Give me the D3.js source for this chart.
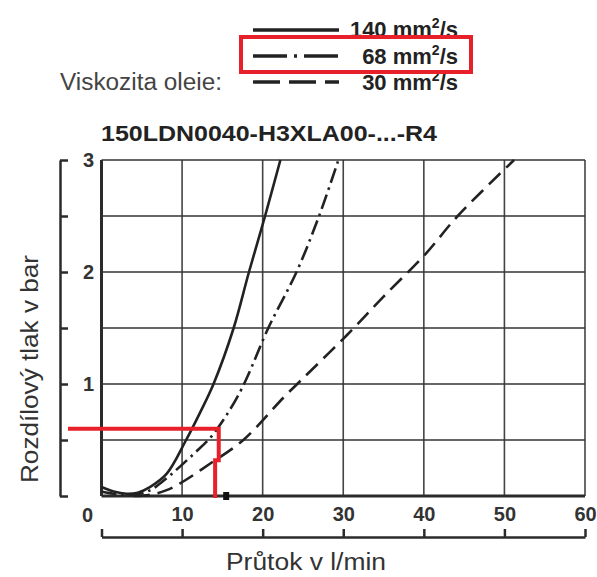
<!DOCTYPE html>
<html>
<head>
<meta charset="utf-8">
<script src="https://cdn.jsdelivr.net/npm/d3@7"></script>
<style>
  body { margin: 0; background: #fff; }
  svg { display: block; font-family: "Liberation Sans", Arial, sans-serif; }
</style>
</head>
<body>
<svg width="597" height="577"></svg>
<script>
// curve values (flow l/min, pressure bar)
var flow140 = [0, 1.5, 3.1, 4.5, 6, 8.1, 10.5, 12.2, 13.9, 16.4, 18.3, 20.3, 22.2];
var dp140 = [0.08, 0.04, 0.02, 0.03, 0.08, 0.2, 0.5, 0.74, 1.0, 1.5, 2.0, 2.5, 3.0];
var flow68 = [0, 2, 4, 6, 8.1, 9.7, 11.5, 13.5, 15.5, 17.2, 18.2, 20.7, 24.2, 27, 29.4];
var dp68 = [0.04, 0.015, 0.01, 0.05, 0.16, 0.26, 0.38, 0.52, 0.72, 0.93, 1.08, 1.5, 2.0, 2.5, 3.0];
var flow30 = [4, 6, 8, 9.7, 13.5, 17.6, 22.6, 25, 30.5, 35, 40.2, 44.2, 51.2];
var dp30 = [0.0, 0.01, 0.05, 0.11, 0.29, 0.5, 0.88, 1.05, 1.44, 1.78, 2.16, 2.5, 3.0];

var xTicks = [10, 20, 30, 40, 50, 60];
var yTicks = [1, 2, 3];
var xGrid = [0, 10, 20, 30, 40, 50, 60];
var yGrid = [0, 0.5, 1, 1.5, 2, 2.5, 3];

var legendNames = ["140", "68", "30"];
var markFlow = 14.1, markDp = 0.6;

var svg = d3.select("svg");
var x = d3.scaleLinear().domain([0, 60]).range([101.5, 585]);
var y = d3.scaleLinear().domain([0, 3]).range([496, 160]);
var ink = "#2b2b2b";

// grid
svg.append("g").selectAll("line").data(xGrid).join("line")
  .attr("x1", d => x(d)).attr("x2", d => x(d))
  .attr("y1", y(3)).attr("y2", y(0))
  .attr("stroke", (d, i) => i == 0 ? ink : "#444")
  .attr("stroke-width", (d, i) => i == 0 ? 3 : 1.6);
svg.append("g").selectAll("line").data(yGrid).join("line")
  .attr("x1", x(0)).attr("x2", x(60))
  .attr("y1", d => y(d)).attr("y2", d => y(d))
  .attr("stroke", (d, i) => i == 0 ? ink : "#333")
  .attr("stroke-width", (d, i) => i == 0 ? 3 : 1.6);

// separate side and bottom scales
var leftAxis = svg.append("g").attr("transform", "translate(60,0)")
  .call(d3.axisRight(y).tickValues(yGrid).tickSize(8).tickSizeOuter(0).tickFormat(""));
leftAxis.selectAll("path, line").attr("stroke", ink).attr("stroke-width", 2.5);

var bottomAxis = svg.append("g").attr("transform", "translate(0,537)")
  .call(d3.axisTop(x).tickValues(xGrid).tickSize(8).tickSizeOuter(0).tickFormat(""));
bottomAxis.selectAll("path, line").attr("stroke", ink).attr("stroke-width", 2.5);

// tick labels
var xl = svg.append("g").attr("transform", "translate(0,496)")
  .call(d3.axisBottom(x).tickValues(xTicks).tickSize(0).tickPadding(11));
xl.select(".domain").remove();
var yl = svg.append("g").attr("transform", "translate(94,0)")
  .call(d3.axisLeft(y).tickValues(yTicks).tickSize(0).tickPadding(0).tickFormat(d3.format("d")));
yl.select(".domain").remove();
svg.selectAll(".tick text").attr("font-size", 20).attr("font-weight", "bold")
  .attr("fill", "#333").attr("font-family", "Liberation Sans, Arial, sans-serif");
svg.append("text").attr("x", x(0) - 14).attr("y", 522).attr("text-anchor", "middle")
  .attr("font-size", 20).attr("font-weight", "bold").attr("fill", "#333").text("0");

// titles
svg.append("text").attr("x", 101).attr("y", 141)
  .attr("font-size", 22).attr("font-weight", "bold").attr("fill", "#222")
  .attr("textLength", 336).attr("lengthAdjust", "spacingAndGlyphs")
  .text("150LDN0040-H3XLA00-...-R4");
svg.append("text").attr("x", 226).attr("y", 570)
  .attr("font-size", 23).attr("fill", "#333")
  .attr("textLength", 160).attr("lengthAdjust", "spacingAndGlyphs")
  .text("Průtok v l/min");
svg.append("text").attr("transform", "translate(38,483) rotate(-90)")
  .attr("font-size", 23).attr("fill", "#333")
  .attr("textLength", 228).attr("lengthAdjust", "spacingAndGlyphs")
  .text("Rozdílový tlak v bar");

// curves
var line = d3.line().x(d => x(d[0])).y(d => y(d[1])).curve(d3.curveCatmullRom.alpha(0.5));
var curves = [
  { pts: d3.zip(flow140, dp140), dash: null },
  { pts: d3.zip(flow68, dp68), dash: "15,5,2.5,5" },
  { pts: d3.zip(flow30, dp30), dash: "16,8" }
];
svg.append("g").selectAll("path").data(curves).join("path")
  .attr("d", d => line(d.pts))
  .attr("fill", "none").attr("stroke", "#222").attr("stroke-width", 2.6)
  .attr("stroke-dasharray", d => d.dash);

// legend
var legendDash = [null, "34,7,3,7", "27,9"];
var legendY = [30, 56, 82];
var legendBase = [37, 64, 90];
svg.append("g").selectAll("line").data(legendNames).join("line")
  .attr("x1", 253).attr("x2", 339)
  .attr("y1", (d, i) => legendY[i]).attr("y2", (d, i) => legendY[i])
  .attr("stroke", "#222").attr("stroke-width", 3.4)
  .attr("stroke-dasharray", (d, i) => legendDash[i]);
var lt = svg.append("g").selectAll("text").data(legendNames).join("text")
  .attr("x", 458).attr("y", (d, i) => legendBase[i])
  .attr("text-anchor", "end").attr("font-size", 22).attr("font-weight", "bold").attr("fill", "#222");
lt.append("tspan").text(d => d + " mm");
lt.append("tspan").attr("font-size", 14).attr("dy", -9).text("2");
lt.append("tspan").attr("dy", 9).text("/s");
svg.append("text").attr("x", 60).attr("y", 90)
  .attr("font-size", 23).attr("fill", "#444")
  .attr("textLength", 162).attr("lengthAdjust", "spacingAndGlyphs")
  .text("Viskozita oleie:");

// red highlight
svg.append("rect").attr("x", 241).attr("y", 37).attr("width", 230).attr("height", 35)
  .attr("fill", "none").attr("stroke", "#e8202a").attr("stroke-width", 4);
var red = d3.path();
red.moveTo(68, y(markDp));
red.lineTo(x(markFlow + 0.45), y(markDp));
red.lineTo(x(markFlow + 0.45), y(0.32));
red.lineTo(x(markFlow), y(0.32));
red.lineTo(x(markFlow), 498);
svg.append("path").attr("d", red.toString()).attr("fill", "none")
  .attr("stroke", "#e8202a").attr("stroke-width", 4);
svg.append("rect").attr("x", x(15.1)).attr("y", 492).attr("width", 6).attr("height", 8).attr("fill", "#111");
</script>
</body>
</html>
